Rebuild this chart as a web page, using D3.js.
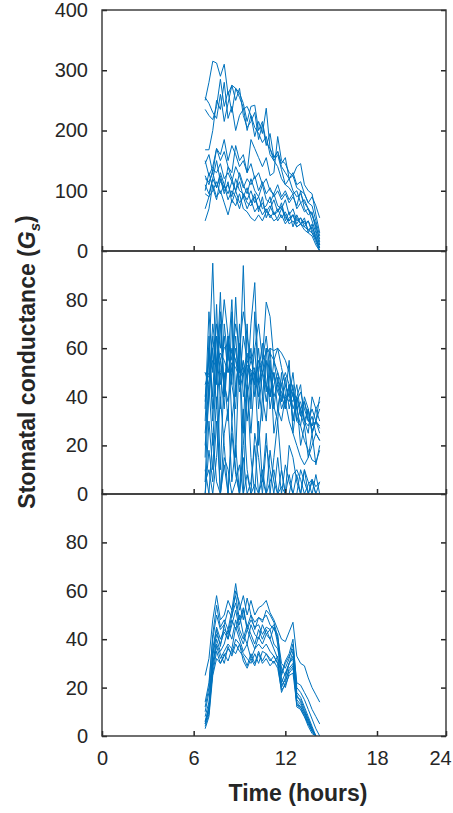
<!doctype html>
<html>
<head>
<meta charset="utf-8">
<style>
    body {
        margin: 0;
        background: #fff;
        font-family: 'Liberation Sans', Arial, sans-serif;
    }

    svg {
        display: block;
    }

    .tick text {
        font-family: 'Liberation Sans', Arial, sans-serif;
        font-size: 20px;
        fill: #262626;
    }

    .tick line {
        stroke: #262626;
        stroke-width: 1.5;
    }

    .domain {
        display: none;
    }

    .frame {
        fill: none;
        stroke: #333;
        stroke-width: 1.4;
    }

    .trace {
        fill: none;
        stroke: #0072bd;
        stroke-width: 1;
    }

    text.label {
        font-size: 23px;
        font-weight: bold;
        fill: #262626;
    }
</style>
<script src="https://d3js.org/d3.v7.min.js"></script>
</head>
<body>
<svg width="453" height="813"></svg>
<script>
    // sampling times (hours), every 15 min
    const times = [6.75, 7, 7.25, 7.5, 7.75, 8, 8.25, 8.5, 8.75, 9, 9.25, 9.5, 9.75, 10, 10.25, 10.5,
        10.75, 11, 11.25, 11.5, 11.75, 12, 12.25, 12.5, 12.75, 13, 13.25, 13.5, 13.75, 14, 14.25];

    const xTicks = [0, 6, 12, 18, 24];
    const topTicks = [0, 100, 200, 300, 400];
    const lowTicks = [0, 20, 40, 60, 80];

    // top panel
    const gsPanelA = [
        [250, 280, 315, 312, 290, 310, 260, 275, 270, 262, 245, 215, 240, 242, 200, 215, 180, 170, 155, 165, 140, 130, 120, 125, 105, 100, 95, 80, 90, 75, 55],
        [235, 225, 218, 240, 285, 240, 265, 230, 270, 255, 238, 200, 225, 205, 195, 180, 190, 160, 150, 140, 120, 110, 105, 95, 100, 80, 85, 70, 60, 40, 20],
        [168, 168, 200, 250, 235, 280, 220, 240, 200, 225, 235, 240, 225, 190, 215, 195, 237, 170, 150, 160, 135, 110, 120, 100, 90, 95, 80, 70, 60, 45, 15],
        [150, 125, 140, 170, 160, 185, 150, 175, 160, 140, 150, 130, 185, 170, 155, 140, 155, 125, 130, 190, 150, 145, 130, 125, 140, 145, 110, 100, 95, 60, 30],
        [125, 110, 135, 130, 145, 120, 130, 115, 140, 125, 105, 120, 110, 125, 100, 115, 95, 105, 90, 100, 85, 95, 80, 90, 75, 100, 70, 60, 65, 35, 10],
        [110, 95, 120, 150, 115, 105, 140, 120, 100, 130, 110, 95, 120, 100, 90, 110, 85, 80, 95, 75, 70, 85, 60, 70, 50, 55, 45, 50, 35, 20, 5],
        [95, 90, 100, 115, 95, 110, 85, 100, 90, 70, 95, 80, 75, 90, 70, 80, 65, 75, 60, 70, 55, 65, 50, 60, 45, 55, 40, 50, 30, 15, 0],
        [70, 90, 120, 105, 130, 110, 95, 115, 100, 80, 90, 70, 85, 65, 75, 60, 70, 55, 65, 50, 60, 45, 55, 60, 40, 45, 35, 30, 25, 10, 0],
        [50, 70, 110, 90, 100, 80, 60, 85, 75, 95, 70, 65, 55, 50, 60, 50, 65, 60, 50, 55, 70, 60, 45, 50, 40, 45, 50, 35, 40, 25, 5],
        [120, 115, 130, 105, 125, 100, 110, 90, 120, 100, 95, 85, 100, 80, 90, 70, 75, 90, 60, 65, 80, 55, 50, 60, 55, 45, 40, 35, 30, 20, 0],
        [145, 160, 130, 170, 150, 165, 140, 130, 175, 150, 160, 130, 145, 120, 130, 110, 120, 100, 95, 110, 90, 100, 85, 95, 70, 80, 65, 70, 50, 30, 10],
        [100, 130, 105, 85, 120, 95, 115, 80, 100, 115, 90, 105, 80, 95, 65, 90, 55, 70, 85, 65, 75, 50, 65, 40, 60, 45, 55, 30, 45, 20, 5],
        [255, 245, 230, 220, 260, 215, 245, 275, 250, 270, 225, 205, 215, 230, 185, 210, 175, 195, 155, 165, 145, 155, 120, 130, 110, 115, 95, 80, 75, 50, 25]
    ];

    // middle panel
    const gsPanelB = [
        [40, 55, 95, 45, 70, 40, 65, 50, 60, 45, 55, 40, 50, 45, 60, 40, 55, 35, 45, 50, 40, 35, 45, 30, 40, 35, 30, 35, 25, 30, 40],
        [30, 60, 40, 78, 35, 70, 55, 80, 40, 62, 50, 58, 45, 52, 40, 55, 42, 60, 35, 48, 38, 45, 40, 50, 35, 38, 30, 28, 32, 25, 22],
        [25, 45, 65, 50, 83, 40, 60, 45, 81, 50, 94, 45, 70, 87, 45, 55, 79, 73, 55, 60, 52, 45, 40, 38, 45, 33, 28, 35, 26, 30, 27],
        [5, 45, 20, 55, 10, 50, 30, 75, 15, 60, 0, 45, 25, 50, 20, 40, 30, 55, 25, 35, 45, 38, 30, 25, 20, 15, 12, 15, 20, 25, 22],
        [0, 18, 5, 30, 0, 12, 0, 25, 8, 0, 15, 0, 5, 20, 0, 10, 0, 18, 5, 0, 10, 0, 0, 8, 10, 6, 0, 4, 6, 3, 5],
        [10, 0, 25, 5, 0, 15, 10, 0, 5, 12, 0, 8, 0, 4, 0, 6, 0, 5, 10, 0, 3, 0, 8, 0, 0, 10, 5, 0, 6, 0, 5],
        [45, 50, 60, 65, 55, 60, 62, 58, 55, 50, 52, 48, 55, 50, 45, 50, 60, 58, 55, 50, 45, 50, 45, 40, 38, 42, 35, 30, 28, 30, 25],
        [35, 75, 50, 70, 60, 80, 65, 55, 70, 60, 75, 65, 55, 60, 70, 55, 65, 50, 40, 45, 35, 40, 38, 45, 30, 35, 38, 32, 28, 35, 30],
        [20, 40, 60, 35, 55, 45, 38, 50, 65, 42, 50, 30, 45, 60, 35, 50, 38, 50, 36, 30, 50, 35, 45, 30, 40, 45, 30, 25, 40, 35, 38],
        [15, 65, 35, 50, 75, 40, 65, 30, 45, 55, 25, 70, 35, 75, 45, 30, 60, 40, 50, 35, 30, 40, 55, 25, 38, 20, 28, 15, 25, 12, 20],
        [0, 30, 10, 40, 0, 25, 35, 5, 20, 0, 35, 10, 0, 25, 15, 0, 20, 10, 0, 15, 0, 12, 5, 0, 8, 0, 10, 5, 0, 8, 0],
        [50, 45, 70, 55, 45, 65, 50, 60, 55, 45, 65, 55, 50, 45, 55, 50, 45, 40, 55, 45, 42, 38, 45, 35, 40, 32, 38, 30, 35, 30, 28],
        [38, 60, 30, 65, 50, 35, 60, 45, 35, 70, 40, 50, 60, 40, 50, 62, 45, 40, 50, 42, 38, 48, 35, 42, 30, 28, 40, 35, 25, 30, 35],
        [5, 10, 0, 15, 40, 20, 0, 30, 10, 0, 20, 45, 15, 0, 30, 5, 25, 0, 15, 30, 10, 0, 20, 15, 5, 0, 10, 0, 5, 0, 0],
        [50, 48, 55, 52, 58, 55, 50, 54, 52, 48, 50, 53, 51, 49, 52, 55, 58, 60, 59, 60, 58, 55, 50, 42, 35, 28, 22, 18, 14, 13, 18]
    ];

    // bottom panel
    const gsPanelC = [
        [25, 32, 48, 58, 48, 50, 56, 52, 63, 52, 58, 50, 56, 50, 53, 54, 56, 51, 48, 44, 40, 39, 43, 47, 33, 30, 29, 24, 20, 17, 14],
        [14, 22, 40, 50, 44, 46, 52, 49, 60, 55, 48, 57, 50, 44, 49, 47, 52, 50, 47, 41, 30, 28, 32, 38, 22, 21, 18, 15, 11, 8, 5],
        [5, 12, 36, 45, 40, 44, 42, 50, 55, 46, 52, 44, 48, 45, 46, 42, 45, 44, 46, 38, 25, 30, 33, 36, 18, 16, 12, 8, 4, 0],
        [5, 10, 33, 42, 38, 43, 40, 46, 52, 44, 40, 46, 42, 38, 44, 40, 44, 40, 45, 40, 22, 26, 30, 35, 15, 13, 10, 6, 3, 0],
        [8, 14, 30, 40, 35, 38, 44, 40, 48, 42, 38, 44, 40, 36, 41, 38, 42, 40, 36, 32, 20, 24, 30, 32, 13, 12, 9, 6, 2, 0],
        [4, 9, 28, 37, 32, 35, 38, 36, 45, 40, 35, 38, 32, 36, 38, 36, 38, 35, 33, 30, 18, 22, 28, 30, 12, 11, 8, 5, 2, 0],
        [6, 12, 26, 35, 30, 33, 36, 34, 40, 38, 34, 32, 30, 34, 30, 35, 34, 32, 30, 33, 24, 20, 26, 28, 17, 14, 10, 7, 3, 0],
        [10, 18, 34, 44, 37, 46, 40, 48, 44, 50, 42, 38, 46, 42, 40, 46, 42, 44, 38, 36, 28, 25, 30, 33, 16, 15, 11, 7, 3, 0],
        [6, 11, 30, 38, 34, 30, 37, 33, 38, 35, 33, 29, 34, 30, 35, 31, 34, 31, 33, 30, 21, 23, 27, 29, 14, 12, 9, 5, 2, 0],
        [12, 20, 42, 54, 45, 48, 44, 52, 58, 48, 53, 45, 50, 47, 49, 48, 50, 46, 44, 42, 26, 31, 34, 40, 20, 18, 15, 11, 7, 3, 0],
        [3, 8, 25, 32, 30, 34, 31, 36, 34, 38, 31, 28, 32, 29, 34, 30, 32, 29, 31, 28, 19, 21, 25, 26, 13, 11, 8, 4, 1, 0]
    ];

    const svg = d3.select('svg');

    const left = 102;
    const right = 446;
    const bounds = [10, 251, 494, 736];   // panel edges, top to bottom

    const panels = [
        { series: gsPanelA, domain: [0, 400], ticks: topTicks },
        { series: gsPanelB, domain: [0, 100], ticks: lowTicks },
        { series: gsPanelC, domain: [0, 100], ticks: lowTicks }
    ];

    // the original frame stops short of 24 h, so last interval is squeezed
    const xScale = d3.scaleLinear()
        .domain([0, 18, 24])
        .range([left, 377, right]);

    panels.forEach((p, i) => {
        const top = bounds[i];
        const bottom = bounds[i + 1];

        const yScale = d3.scaleLinear()
            .domain(p.domain)
            .range([bottom, top]);

        const panel = svg.append('g');

        panel.append('clipPath')
            .attr('id', 'clip' + i)
            .append('rect')
            .attr('x', left)
            .attr('y', top)
            .attr('width', right - left)
            .attr('height', bottom - top);

        const line = d3.line()
            .x((d, j) => xScale(times[j]))
            .y((d) => yScale(d));

        panel.append('g')
            .attr('clip-path', `url(#clip${i})`)
            .selectAll('path')
            .data(p.series)
            .join('path')
            .attr('class', 'trace')
            .attr('d', line);

        panel.append('g')
            .attr('transform', `translate(${left}, 0)`)
            .call(d3.axisLeft(yScale)
                .tickValues(p.ticks)
                .tickSizeInner(-5)
                .tickSizeOuter(0)
                .tickPadding(14));

        panel.append('g')
            .attr('transform', `translate(${right}, 0)`)
            .call(d3.axisRight(yScale)
                .tickValues(p.ticks)
                .tickSizeInner(-5)
                .tickSizeOuter(0)
                .tickFormat(''));

        const isLast = i === panels.length - 1;
        const xAxis = panel.append('g')
            .attr('transform', `translate(0, ${bottom})`)
            .call(d3.axisBottom(xScale)
                .tickValues(xTicks)
                .tickSizeInner(-5)
                .tickSizeOuter(0)
                .tickPadding(15)
                .tickFormat(isLast ? d3.format('d') : ''));

        if (isLast) {
            xAxis.selectAll('.tick:last-of-type text').attr('dx', -6);
        }

        panel.append('rect')
            .attr('class', 'frame')
            .attr('x', left)
            .attr('y', top)
            .attr('width', right - left)
            .attr('height', bottom - top);
    });

    // axis titles
    svg.append('text')
        .attr('class', 'label')
        .attr('x', 298)
        .attr('y', 801)
        .attr('text-anchor', 'middle')
        .text('Time (hours)');

    const yLabel = svg.append('text')
        .attr('class', 'label')
        .attr('transform', 'translate(35, 362) rotate(-90)')
        .attr('text-anchor', 'middle');

    yLabel.append('tspan').text('Stomatal conductance (');
    yLabel.append('tspan').attr('font-style', 'italic').text('G');
    yLabel.append('tspan').attr('font-size', '15px').attr('font-style', 'italic').attr('dy', '0.3em').text('s');
    yLabel.append('tspan').attr('dy', '-0.3em').text(')');
</script>
</body>
</html>
